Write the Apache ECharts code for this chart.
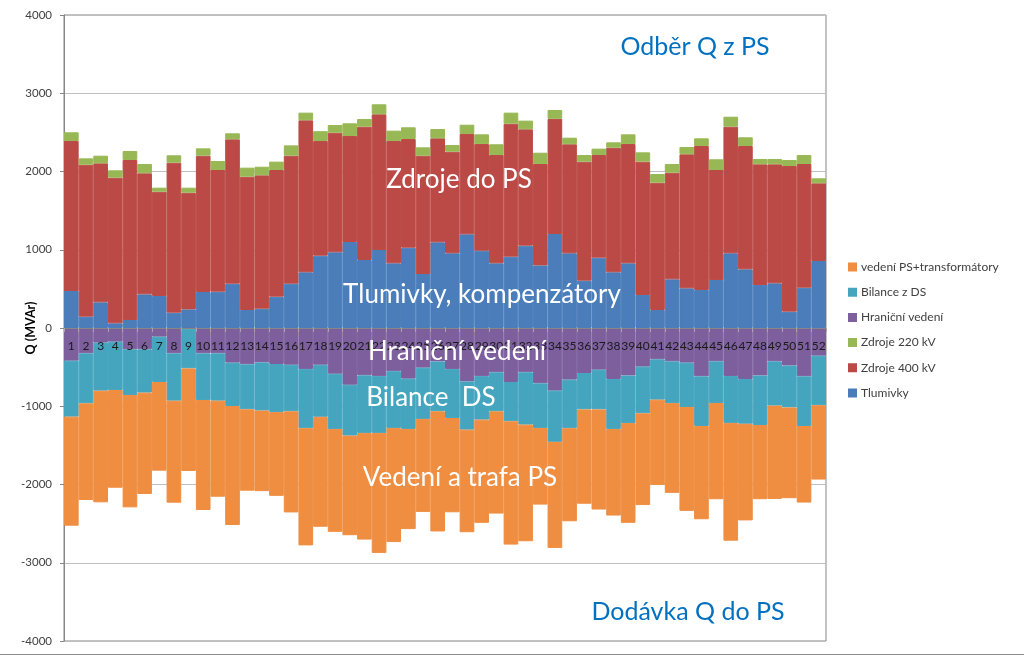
<!DOCTYPE html>
<html>
<head>
<meta charset="utf-8">
<script src="https://cdn.jsdelivr.net/npm/echarts@6/dist/echarts.min.js"></script>
<style>
html,body{margin:0;padding:0;background:#fff;}
#c{width:1024px;height:659px;}
</style>
</head>
<body>
<div id="c"></div>
<script>
const weeks = ['1','2','3','4','5','6','7','8','9','10','11','12','13','14','15','16','17','18','19','20','21','22','23','24','25','26','27','28','29','30','31','32','33','34','35','36','37','38','39','40','41','42','43','44','45','46','47','48','49','50','51','52'];

const tlumivky = [473,145,328,60,102,430,409,196,238,460,464,566,230,247,400,566,712,924,967,1099,869,997,827,1026,690,1095,955,1197,988,827,911,1052,800,1201,955,605,899,712,827,422,230,622,507,486,613,955,750,550,571,209,515,856];
const zdroje400 = [1917,1942,1776,1861,2045,1547,1333,1917,1491,1742,1555,1845,1704,1704,1619,1636,1942,1466,1529,1355,1704,1734,1563,1389,1512,1329,1298,1282,1363,1384,1700,1487,1296,1472,1393,1521,1312,1592,1524,1704,1627,1363,1713,1840,1406,1618,1576,1542,1521,1861,1581,993];
const zdroje220 = [111,81,98,94,115,119,51,94,64,94,115,77,115,110,107,132,98,125,98,162,98,128,132,150,107,119,86,119,124,137,141,111,144,113,84,85,81,69,124,119,111,111,93,98,137,127,111,68,68,77,115,64];
const hranicni = [-418,-324,-187,-175,-272,-272,-111,-324,-10,-324,-324,-443,-464,-440,-460,-470,-525,-470,-585,-726,-605,-615,-552,-648,-507,-428,-525,-684,-615,-566,-690,-566,-707,-801,-660,-575,-533,-652,-607,-494,-400,-426,-443,-618,-426,-613,-652,-607,-426,-480,-618,-354];
const bilance = [-715,-639,-614,-617,-584,-554,-579,-605,-506,-596,-605,-554,-575,-615,-615,-595,-755,-665,-705,-649,-736,-726,-725,-642,-655,-637,-625,-615,-556,-499,-502,-669,-570,-654,-620,-465,-507,-638,-608,-596,-516,-534,-566,-634,-532,-600,-572,-633,-566,-535,-634,-632];
const vedeni = [-1393,-1235,-1427,-1249,-1436,-1295,-1133,-1303,-1311,-1406,-1227,-1521,-1040,-1030,-1070,-1292,-1498,-1405,-1315,-1273,-1363,-1533,-1459,-1280,-1188,-1535,-1205,-1311,-1319,-1307,-1576,-1490,-980,-1355,-1190,-1206,-1280,-1107,-1275,-1173,-1089,-1147,-1328,-1192,-1230,-1505,-1235,-948,-1192,-1160,-979,-951];

const legendOrder = ['vedení PS+transformátory','Bilance z DS','Hraniční vedení','Zdroje 220 kV','Zdroje 400 kV','Tlumivky'];

const FONT = 'Lato, "Open Sans", sans-serif';

function bar(name, data, color) {
  return {
    name: name, type: 'bar', stack: 'q', data: data,
    barCategoryGap: 0, barGap: 0,
    itemStyle: { color: color, borderColor: color, borderWidth: 1 },
    emphasis: { disabled: true },
    animation: false
  };
}

const GRID_TOP = 15, GRID_BOTTOM = 18, H = 659;

const chart = echarts.init(document.getElementById('c'), null, { renderer: 'canvas' });
chart.setOption({
  animation: false,
  backgroundColor: '#ffffff',
  textStyle: { fontFamily: FONT },
  grid: {
    left: 64, right: 198, top: GRID_TOP, bottom: GRID_BOTTOM,
    show: true, borderColor: '#868686', borderWidth: 1, backgroundColor: 'transparent'
  },
  legend: {
    orient: 'vertical',
    left: 843, top: 255,
    itemWidth: 7, itemHeight: 7, itemGap: 11.2,
    icon: 'rect',
    data: legendOrder,
    textStyle: { fontFamily: FONT, fontSize: 12, color: '#404040', lineHeight: 14 }
  },
  xAxis: {
    type: 'category',
    data: weeks,
    z: 5,
    offset: -(H - GRID_TOP - GRID_BOTTOM) / 2,
    axisLine: { onZero: false, lineStyle: { color: '#868686', width: 1 } },
    axisTick: { show: true, length: 4, lineStyle: { color: '#a6a6a6' } },
    axisLabel: { interval: 0, margin: 12, fontSize: 12, color: '#1a1a1a', fontFamily: FONT },
    splitLine: { show: false }
  },
  yAxis: {
    type: 'value',
    min: -4000, max: 4000, interval: 1000,
    name: 'Q (MVAr)',
    nameLocation: 'middle',
    nameGap: 27,
    nameRotate: 90,
    nameMoveOverlap: false,
    nameTextStyle: { fontFamily: FONT, fontSize: 12.5, fontWeight: 'bold', color: '#000000' },
    axisLine: { show: true, lineStyle: { color: '#868686' } },
    axisTick: { show: true, length: 4, lineStyle: { color: '#868686' } },
    axisLabel: { margin: 12, fontSize: 11.5, color: '#404040', fontFamily: FONT, formatter: function (v) { return String(v); } },
    splitLine: { show: true, lineStyle: { color: '#bfbfbf', width: 1 } }
  },
  series: [
    bar('Tlumivky', tlumivky, '#4A7DBA'),
    bar('Zdroje 400 kV', zdroje400, '#BB4A46'),
    bar('Zdroje 220 kV', zdroje220, '#98B855'),
    bar('Hraniční vedení', hranicni, '#7D5F9E'),
    bar('Bilance z DS', bilance, '#45A5BF'),
    bar('vedení PS+transformátory', vedeni, '#EF8D40')
  ],
  graphic: [
    { type: 'line', z: 100, shape: { x1: 0, y1: 654.5, x2: 1024, y2: 654.5 }, style: { stroke: '#8c8c8c', lineWidth: 1 } },
    { type: 'text', z: 100, style: { text: 'Zdroje do PS', x: 459, y: 180, align: 'center', verticalAlign: 'middle', fill: '#ffffff', font: '26px ' + FONT } },
    { type: 'text', z: 100, style: { text: 'Tlumivky, kompenzátory', x: 482, y: 295, align: 'center', verticalAlign: 'middle', fill: '#ffffff', font: '26px ' + FONT } },
    { type: 'text', z: 100, style: { text: 'Hraniční vedení', x: 457, y: 352, align: 'center', verticalAlign: 'middle', fill: '#ffffff', font: '26px ' + FONT } },
    { type: 'text', z: 100, style: { text: 'Bilance  DS', x: 431, y: 398, align: 'center', verticalAlign: 'middle', fill: '#ffffff', font: '26px ' + FONT } },
    { type: 'text', z: 100, style: { text: 'Vedení a trafa PS', x: 460, y: 478, align: 'center', verticalAlign: 'middle', fill: '#ffffff', font: '26px ' + FONT } },
    { type: 'text', z: 100, style: { text: 'Odběr Q z PS', x: 695, y: 47, align: 'center', verticalAlign: 'middle', fill: '#0070C0', font: '25px ' + FONT } },
    { type: 'text', z: 100, style: { text: 'Dodávka Q do PS', x: 688, y: 612, align: 'center', verticalAlign: 'middle', fill: '#0070C0', font: '25px ' + FONT } }
  ]
});
</script>
</body>
</html>
